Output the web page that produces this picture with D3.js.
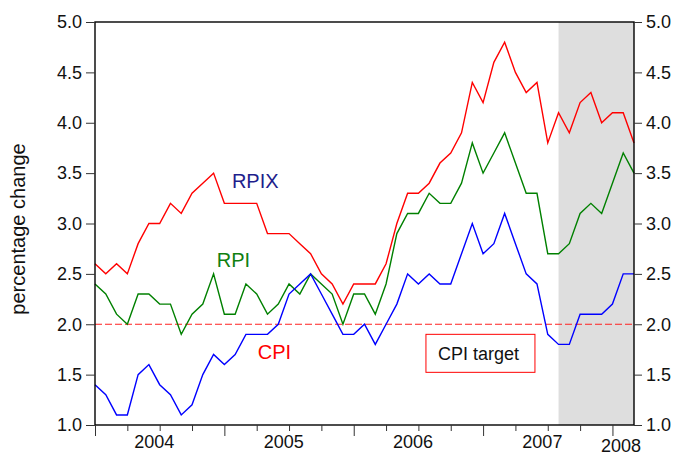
<!DOCTYPE html>
<html>
<head>
<meta charset="utf-8">
<script src="https://cdn.jsdelivr.net/npm/d3@7"></script>
<style>
  body { margin: 0; background: #fff; }
  text { font-family: "Liberation Sans", Arial, sans-serif; }
</style>
</head>
<body>
<svg width="688" height="455"></svg>
<script>
// monthly observations, Jan 2004 .. Mar 2008
const months = [];
for (let y = 2004; y <= 2008; y++) {
    for (let m = 1; m <= 12; m++) {
        if (y === 2008 && m > 3) break;
        months.push(y + "M" + String(m).padStart(2, "0"));
    }
}

const rpix = [2.6, 2.5, 2.6, 2.5, 2.8, 3.0, 3.0, 3.2, 3.1, 3.3, 3.4, 3.5,
              3.2, 3.2, 3.2, 3.2, 2.9, 2.9, 2.9, 2.8, 2.7, 2.5, 2.4, 2.2,
              2.4, 2.4, 2.4, 2.6, 3.0, 3.3, 3.3, 3.4, 3.6, 3.7, 3.9, 4.4,
              4.2, 4.6, 4.8, 4.5, 4.3, 4.4, 3.8, 4.1, 3.9, 4.2, 4.3, 4.0,
              4.1, 4.1, 3.8];
const rpi  = [2.4, 2.3, 2.1, 2.0, 2.3, 2.3, 2.2, 2.2, 1.9, 2.1, 2.2, 2.5,
              2.1, 2.1, 2.4, 2.3, 2.1, 2.2, 2.4, 2.3, 2.5, 2.4, 2.3, 2.0,
              2.3, 2.3, 2.1, 2.4, 2.9, 3.1, 3.1, 3.3, 3.2, 3.2, 3.4, 3.8,
              3.5, 3.7, 3.9, 3.6, 3.3, 3.3, 2.7, 2.7, 2.8, 3.1, 3.2, 3.1,
              3.4, 3.7, 3.5];
const cpi  = [1.4, 1.3, 1.1, 1.1, 1.5, 1.6, 1.4, 1.3, 1.1, 1.2, 1.5, 1.7,
              1.6, 1.7, 1.9, 1.9, 1.9, 2.0, 2.3, 2.4, 2.5, 2.3, 2.1, 1.9,
              1.9, 2.0, 1.8, 2.0, 2.2, 2.5, 2.4, 2.5, 2.4, 2.4, 2.7, 3.0,
              2.7, 2.8, 3.1, 2.8, 2.5, 2.4, 1.9, 1.8, 1.8, 2.1, 2.1, 2.1,
              2.2, 2.5, 2.5];
const cpiTarget = 2.0;
const shadeStart = "2007M08";

const yTicks = [1.0, 1.5, 2.0, 2.5, 3.0, 3.5, 4.0, 4.5, 5.0];
const yearLabels = ["2004", "2005", "2006", "2007", "2008"];

const svg = d3.select("svg");
const margin = { top: 22, right: 54, bottom: 30, left: 95 };
const width = 688 - margin.left - margin.right;
const height = 455 - margin.top - margin.bottom;

const g = svg.append("g").attr("transform", `translate(${margin.left},${margin.top})`);

const xScale = d3.scaleLinear().domain([0, months.length - 1]).range([0, width]);
const yScale = d3.scaleLinear().domain([1, 5]).range([height, 0]);

// shaded period
const s0 = months.indexOf(shadeStart);
g.append("rect")
    .attr("x", xScale(s0))
    .attr("y", 0)
    .attr("width", xScale(months.length - 1) - xScale(s0))
    .attr("height", height)
    .attr("fill", "#dedede");

// cpi target
g.append("line")
    .attr("x1", 0).attr("x2", width)
    .attr("y1", yScale(cpiTarget)).attr("y2", yScale(cpiTarget))
    .attr("stroke", "#ff2020")
    .attr("stroke-width", 1)
    .attr("stroke-dasharray", "7,3");

// series
const line = d3.line().x((d, i) => xScale(i)).y(d => yScale(d));
[[rpix, "#ff0000"], [rpi, "#008000"], [cpi, "#0000ff"]].forEach(([data, color]) => {
    g.append("path")
        .datum(data)
        .attr("fill", "none")
        .attr("stroke", color)
        .attr("stroke-width", 1.4)
        .attr("d", line);
});

// frame
g.append("rect")
    .attr("width", width).attr("height", height)
    .attr("fill", "none").attr("stroke", "#000").attr("stroke-width", 1.4);

// y axes, both sides
const fmt = d3.format(".1f");
const yLeft = g.append("g").call(d3.axisLeft(yScale).tickValues(yTicks).tickFormat(fmt).tickSize(9).tickPadding(4));
const yRight = g.append("g").attr("transform", `translate(${width},0)`)
    .call(d3.axisRight(yScale).tickValues(yTicks).tickFormat(fmt).tickSize(8).tickPadding(4));
[yLeft, yRight].forEach(a => {
    a.select(".domain").remove();
    a.selectAll("line").attr("stroke", "#333");
    a.selectAll("text").attr("font-size", 18).attr("fill", "#111")
        .attr("font-family", "Liberation Sans, Arial, sans-serif");
});

// x axis: quarterly ticks, longer at year starts
const qTicks = d3.range(0, months.length, 3);
const xAx = g.append("g").attr("transform", `translate(0,${height})`)
    .call(d3.axisBottom(xScale).tickValues(qTicks).tickFormat("").tickSizeOuter(0)
        .tickSize(6));
xAx.select(".domain").remove();
xAx.selectAll(".tick line")
    .attr("stroke", "#333")
    .attr("y2", d => (d % 12 === 0 ? 11 : 6));

yearLabels.forEach((yr, k) => {
    const mid = Math.min(k * 12 + 5.5, months.length - 2.2);
    const last = k === yearLabels.length - 1;
    g.append("text")
        .attr("x", xScale(mid))
        .attr("y", height + (last ? 27 : 23))
        .attr("text-anchor", "middle")
        .attr("font-size", 18)
        .attr("fill", "#111")
        .text(yr);
});

// axis title
svg.append("text")
    .attr("transform", "translate(25,229) rotate(-90)")
    .attr("text-anchor", "middle")
    .attr("font-size", 20)
    .attr("fill", "#111")
    .text("percentage change");

// series labels
const labels = [
    { text: "RPIX", color: "#1e1e8c", i: 12.7, v: 3.35 },
    { text: "RPI", color: "#108010", i: 11.3, v: 2.57 },
    { text: "CPI", color: "#ff0000", i: 15.1, v: 1.66 }
];
labels.forEach(l => {
    g.append("text")
        .attr("x", xScale(l.i))
        .attr("y", yScale(l.v))
        .attr("font-size", 20)
        .attr("fill", l.color)
        .text(l.text);
});

// legend box
const leg = g.append("g").attr("transform", `translate(${xScale(30.7)},${yScale(1.9)})`);
leg.append("rect")
    .attr("width", 109).attr("height", 38)
    .attr("fill", "#fff").attr("stroke", "#ff0000").attr("stroke-width", 1);
leg.append("text")
    .attr("x", 12).attr("y", 26)
    .attr("font-size", 18)
    .attr("fill", "#111")
    .text("CPI target");
</script>
</body>
</html>
